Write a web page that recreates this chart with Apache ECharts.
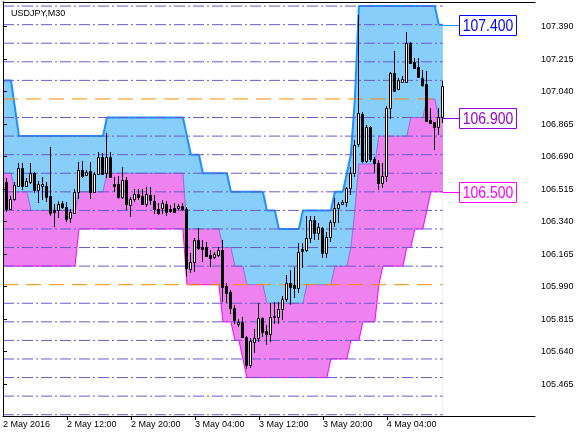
<!DOCTYPE html>
<html><head><meta charset="utf-8">
<script src="https://cdn.jsdelivr.net/npm/echarts@6/dist/echarts.min.js"></script>
<style>html,body{margin:0;padding:0;background:#fff}#c{width:587px;height:436px}</style>
</head><body><div id="c"></div>
<script>
const chartTitle = 'USDJPY,M30';
// bar index of each time label (M30 bars, index 0 = 2 May 04:00)
const xTickIdx = [0, 16, 32, 48, 64, 80, 96];
const xTickLabels = ['2 May 2016', '2 May 12:00', '2 May 20:00', '3 May 04:00', '3 May 12:00', '3 May 20:00', '4 May 04:00'];
const yTickValues = [105.465, 105.640, 105.815, 105.990, 106.165, 106.340, 106.515, 106.690, 106.865, 107.040, 107.215, 107.390];
const levelLines = [105.3, 105.4, 105.5, 105.6, 105.7, 105.8, 105.9, 106.0, 106.1, 106.2, 106.3, 106.4, 106.5, 106.6, 106.7, 106.8, 106.9, 107.0, 107.1, 107.2, 107.3, 107.4, 107.5];
const wholeLevels = [106.0, 107.0];

const opens = [106.554,106.554,106.410,106.459,106.531,106.626,106.531,106.554,106.599,106.509,
106.531,106.531,106.477,106.402,106.402,106.441,106.416,106.357,106.387,106.500,
106.617,106.590,106.613,106.500,106.595,106.689,106.599,106.689,106.542,106.542,
106.470,106.563,106.428,106.459,106.488,106.477,106.434,106.483,106.452,106.407,
106.411,106.434,106.407,106.415,106.411,106.423,106.407,106.087,106.123,106.240,
106.201,106.201,106.159,106.147,106.159,106.186,105.992,105.962,105.877,105.791,
105.800,105.716,105.567,105.693,105.711,105.818,105.750,105.732,105.827,105.827,
105.867,105.921,106.010,105.998,105.980,106.190,106.187,106.253,106.348,106.276,
106.303,106.172,106.255,106.339,106.411,106.434,106.447,106.519,106.599,106.757,
106.917,106.668,106.847,106.675,106.657,106.549,106.585,106.949,107.138,107.052,
107.093,107.093,107.303,107.201,107.170,107.111,107.080,106.887,106.874,106.851,106.901];
const closes = [106.446,106.410,106.459,106.536,106.626,106.531,106.559,106.599,106.509,106.542,
106.542,106.470,106.387,106.391,106.437,106.416,106.351,106.393,106.500,106.617,
106.585,106.608,106.500,106.595,106.689,106.595,106.689,106.581,106.531,106.470,
106.563,106.434,106.459,106.488,106.470,106.434,106.488,106.456,106.406,106.388,
106.442,106.393,106.398,106.391,106.425,106.407,106.088,106.123,106.240,106.195,
106.193,106.154,106.145,106.163,106.186,105.989,105.956,105.877,105.809,105.800,
105.716,105.567,105.698,105.711,105.818,105.746,105.732,105.827,105.833,105.867,
105.921,106.010,105.989,105.980,106.177,106.183,106.249,106.348,106.276,106.309,
106.172,106.255,106.339,106.411,106.433,106.447,106.519,106.599,106.752,106.926,
106.668,106.851,106.675,106.657,106.549,106.585,106.949,107.138,107.045,107.102,
107.107,107.299,107.195,107.168,107.116,107.075,106.883,106.872,106.847,106.901,107.070];
const lows = [106.430,106.393,106.401,106.452,106.524,106.509,106.524,106.542,106.491,106.441,
106.455,106.446,106.369,106.312,106.357,106.405,106.339,106.330,106.384,106.464,
106.572,106.585,106.464,106.491,106.590,106.590,106.572,106.572,106.500,106.464,
106.464,106.402,106.366,106.446,106.455,106.428,106.420,106.429,106.381,106.375,
106.381,106.370,106.384,106.384,106.402,106.398,106.039,106.061,106.070,106.186,
106.123,106.147,106.093,106.136,106.147,105.908,105.903,105.842,105.791,105.773,
105.711,105.544,105.549,105.630,105.693,105.720,105.675,105.693,105.788,105.791,
105.809,105.908,105.890,105.926,105.953,106.088,106.178,106.223,106.240,106.240,
106.142,106.142,106.232,106.309,106.334,106.429,106.420,106.483,106.582,106.743,
106.653,106.653,106.662,106.603,106.510,106.519,106.554,106.890,107.039,107.048,
107.089,107.093,107.192,107.165,107.111,107.063,106.878,106.865,106.725,106.806,106.872];
const highs = [106.570,106.572,106.477,106.554,106.653,106.653,106.572,106.653,106.608,106.559,
106.581,106.554,106.743,106.437,106.452,106.452,106.446,106.407,106.516,106.662,
106.665,106.617,106.662,106.608,106.716,106.710,106.818,106.716,106.581,106.585,
106.631,106.581,106.470,106.516,106.513,106.513,106.528,106.528,106.483,106.438,
106.456,106.452,106.429,106.438,106.433,106.438,106.420,106.168,106.249,106.303,
106.240,106.231,106.186,106.177,106.201,106.240,106.007,105.971,105.890,105.813,
105.827,105.723,105.711,105.759,105.903,105.827,105.782,105.899,105.908,105.908,
105.939,106.050,106.079,106.096,106.222,106.223,106.370,106.370,106.370,106.334,
106.309,106.285,106.348,106.465,106.447,106.456,106.528,106.632,106.779,107.452,
106.931,106.860,106.854,106.689,106.671,106.653,106.962,107.147,107.260,107.111,
107.124,107.360,107.308,107.219,107.219,107.156,107.150,106.949,106.878,106.949,107.098];

const upper = [107.1,107.1,107.1,106.95,106.8,106.8,106.8,106.8,106.8,106.8,
106.8,106.8,106.8,106.8,106.8,106.8,106.8,106.8,106.8,106.8,
106.8,106.8,106.8,106.8,106.8,106.8,106.9,106.9,106.9,106.9,
106.9,106.9,106.9,106.9,106.9,106.9,106.9,106.9,106.9,106.9,
106.9,106.9,106.9,106.9,106.9,106.9,106.8,106.7,106.7,106.7,
106.6,106.6,106.6,106.6,106.6,106.6,106.6,106.5,106.5,106.5,
106.5,106.5,106.5,106.5,106.5,106.5,106.4,106.4,106.4,106.3,
106.3,106.3,106.3,106.3,106.3,106.4,106.4,106.4,106.4,106.4,
106.4,106.4,106.4,106.5,106.5,106.5,106.6,106.7,107.0,107.5,
107.5,107.5,107.5,107.5,107.5,107.5,107.5,107.5,107.5,107.5,
107.5,107.5,107.5,107.5,107.5,107.5,107.5,107.5,107.5,107.4,107.4];
const middle = [106.6,106.6,106.6,106.5,106.5,106.5,106.5,106.4,106.4,106.4,
106.4,106.4,106.4,106.4,106.4,106.4,106.4,106.4,106.4,106.5,
106.5,106.5,106.5,106.5,106.5,106.5,106.6,106.6,106.6,106.6,
106.6,106.6,106.6,106.6,106.6,106.6,106.6,106.6,106.6,106.6,
106.6,106.6,106.6,106.6,106.6,106.6,106.3,106.3,106.3,106.3,
106.3,106.3,106.3,106.3,106.3,106.2,106.2,106.2,106.1,106.1,
106.1,106.0,106.0,106.0,106.0,106.0,105.9,105.9,105.9,105.9,
105.9,105.9,105.9,105.9,105.9,105.9,106.0,106.0,106.0,106.0,
106.0,106.0,106.0,106.1,106.1,106.1,106.1,106.2,106.4,106.65,
106.65,106.65,106.65,106.65,106.8,106.8,106.8,106.8,106.8,106.8,
106.8,106.8,106.9,106.9,106.9,106.9,107.0,107.0,107.0,106.9,106.9];
const lower = [106.1,106.1,106.1,106.1,106.1,106.1,106.1,106.1,106.1,106.1,
106.1,106.1,106.1,106.1,106.1,106.1,106.1,106.1,106.1,106.3,
106.3,106.3,106.3,106.3,106.3,106.3,106.3,106.3,106.3,106.3,
106.3,106.3,106.3,106.3,106.3,106.3,106.3,106.3,106.3,106.3,
106.3,106.3,106.3,106.3,106.3,106.3,106.0,106.0,106.0,106.0,
106.0,106.0,106.0,106.0,106.0,105.8,105.8,105.8,105.7,105.7,
105.6,105.5,105.5,105.5,105.5,105.5,105.5,105.5,105.5,105.5,
105.5,105.5,105.5,105.5,105.5,105.5,105.5,105.5,105.5,105.5,
105.5,105.5,105.6,105.6,105.6,105.6,105.6,105.7,105.7,105.7,
105.8,105.8,105.8,105.8,106.0,106.1,106.1,106.1,106.1,106.1,
106.1,106.2,106.2,106.3,106.3,106.3,106.4,106.5,106.5,106.5,106.5];

const FONT = "'Liberation Sans', Arial, sans-serif";
const N = opens.length;
const last = N - 1;
const idx = Array.from({length: N}, (_, i) => i);
const Y_MIN = 105.293, Y_MAX = 107.522, X_MAX = 133.05;

const bandSeries = [
  {data: upper, line: '#1e90ff', width: 2, fill: '#87cefa'},
  {data: middle, line: '#9370db', width: 1, fill: '#ee82ee'},
  {data: lower, line: '#ff00ff', width: 1, fill: '#ffffff'}
].map(b => ({
  type: 'line', z: 1, silent: true, symbol: 'none', animation: false,
  data: b.data.map((v, i) => [i, v]),
  lineStyle: {color: b.line, width: b.width},
  areaStyle: {color: b.fill, opacity: 1, origin: 'start'}
}));

const levelSeries = levelLines.map(v => {
  const whole = wholeLevels.includes(v);
  return {
    type: 'line', z: 2, silent: true, symbol: 'none', animation: false,
    data: [[0, v], [last, v]],
    lineStyle: {color: whole ? '#ff8c00' : '#6a5acd', width: 1, type: whole ? [15, 8] : [11, 3, 2, 3]}
  };
});

const candleSeries = {
  type: 'custom', z: 3, clip: true, silent: true, animation: false,
  data: idx.map(i => [i, opens[i], closes[i], lows[i], highs[i]]),
  encode: {x: 0, y: [1, 2, 3, 4]},
  renderItem: function (params, api) {
    const i = api.value(0), o = api.value(1), c = api.value(2), l = api.value(3), h = api.value(4);
    const po = api.coord([i, o]), pc = api.coord([i, c]), pl = api.coord([i, l]), ph = api.coord([i, h]);
    const x = Math.round(po[0]) - 1;
    const yTop = Math.round(Math.min(po[1], pc[1]));
    const yBot = Math.round(Math.max(po[1], pc[1]));
    const bull = c >= o;
    const ch = [{type: 'line', shape: {x1: x + 0.5, y1: Math.round(ph[1]), x2: x + 0.5, y2: Math.round(pl[1])}, style: {stroke: '#000', lineWidth: 1}}];
    if (yBot - yTop < 1) {
      ch.push({type: 'line', shape: {x1: x - 1, y1: yTop + 0.5, x2: x + 2, y2: yTop + 0.5}, style: {stroke: '#000', lineWidth: 1}});
    } else {
      ch.push({type: 'rect', shape: {x: x - 0.5, y: yTop + 0.5, width: 2, height: yBot - yTop}, style: {fill: bull ? '#ffffff' : '#000000', stroke: '#000', lineWidth: 1}});
    }
    return {type: 'group', children: ch};
  }
};

const tagValues = [upper[last], middle[last], lower[last]];
const tagText = ['#0000ff', '#9400d3', '#ff00ff'];
const tagLine = ['#1e90ff', '#9400d3', '#ff00ff'];
const tagSeries = {
  type: 'custom', z: 4, clip: false, silent: true, animation: false,
  data: tagValues.map((v, k) => [last, v, k]),
  encode: {x: 0, y: 1},
  renderItem: function (params, api) {
    const v = api.value(1), k = api.value(2);
    const p0 = api.coord([last, v]);
    const p1 = api.coord([last + 4, v]);
    const y = Math.round(p0[1]);
    const bx = Math.round(p1[0]);
    return {type: 'group', children: [
      {type: 'line', shape: {x1: p0[0], y1: y + 0.5, x2: bx, y2: y + 0.5}, style: {stroke: tagLine[k], lineWidth: 1}},
      {type: 'rect', shape: {x: bx + 0.5, y: y - 10 + 0.5, width: 57, height: 20}, style: {fill: '#fff', stroke: tagText[k], lineWidth: 1}},
      {type: 'text', x: bx + 29, y: y + 1, scaleX: 0.82, scaleY: 1,
        style: {text: v.toFixed(3), x: 0, y: 0, align: 'center', verticalAlign: 'middle',
        fontSize: 17, fontFamily: FONT, fill: tagText[k]}}
    ]};
  }
};

const frameAxis = {show: true, lineStyle: {color: '#000', width: 1}};
const chart = echarts.init(document.getElementById('c'), null, {renderer: 'canvas'});
chart.setOption({
  animation: false,
  backgroundColor: '#ffffff',
  title: {text: chartTitle, left: 6, top: 4, z: 12, textStyle: {fontSize: 9, fontWeight: 'normal', color: '#000', fontFamily: FONT}},
  grid: {left: 2, right: 52, top: 2, bottom: 20, show: false},
  xAxis: [{
    type: 'value', min: 0, max: X_MAX, z: 10,
    axisLine: frameAxis,
    axisTick: {show: true, length: 4, lineStyle: {color: '#000'}, customValues: xTickIdx.slice(1)},
    axisLabel: {customValues: xTickIdx, align: 'left', margin: 4, fontSize: 9, color: '#000', fontFamily: FONT,
      formatter: v => xTickLabels[xTickIdx.indexOf(v)] || ''},
    splitLine: {show: false}
  }, {
    type: 'value', position: 'top', min: 0, max: X_MAX, z: 10,
    axisLine: frameAxis, axisTick: {show: false}, axisLabel: {show: false}, splitLine: {show: false}
  }],
  yAxis: [{
    type: 'value', position: 'right', min: Y_MIN, max: Y_MAX, z: 10,
    axisLine: frameAxis,
    axisTick: {show: true, length: 4, lineStyle: {color: '#000'}, customValues: yTickValues},
    axisLabel: {customValues: yTickValues, margin: 6, fontSize: 9, color: '#000', fontFamily: FONT,
      formatter: v => Number(v).toFixed(3)},
    splitLine: {show: false}
  }, {
    type: 'value', position: 'left', min: Y_MIN, max: Y_MAX, z: 10,
    axisLine: frameAxis, axisTick: {show: false}, axisLabel: {show: false}, splitLine: {show: false}
  }],
  series: [...bandSeries, ...levelSeries, candleSeries, tagSeries]
});
</script>
</body></html>
